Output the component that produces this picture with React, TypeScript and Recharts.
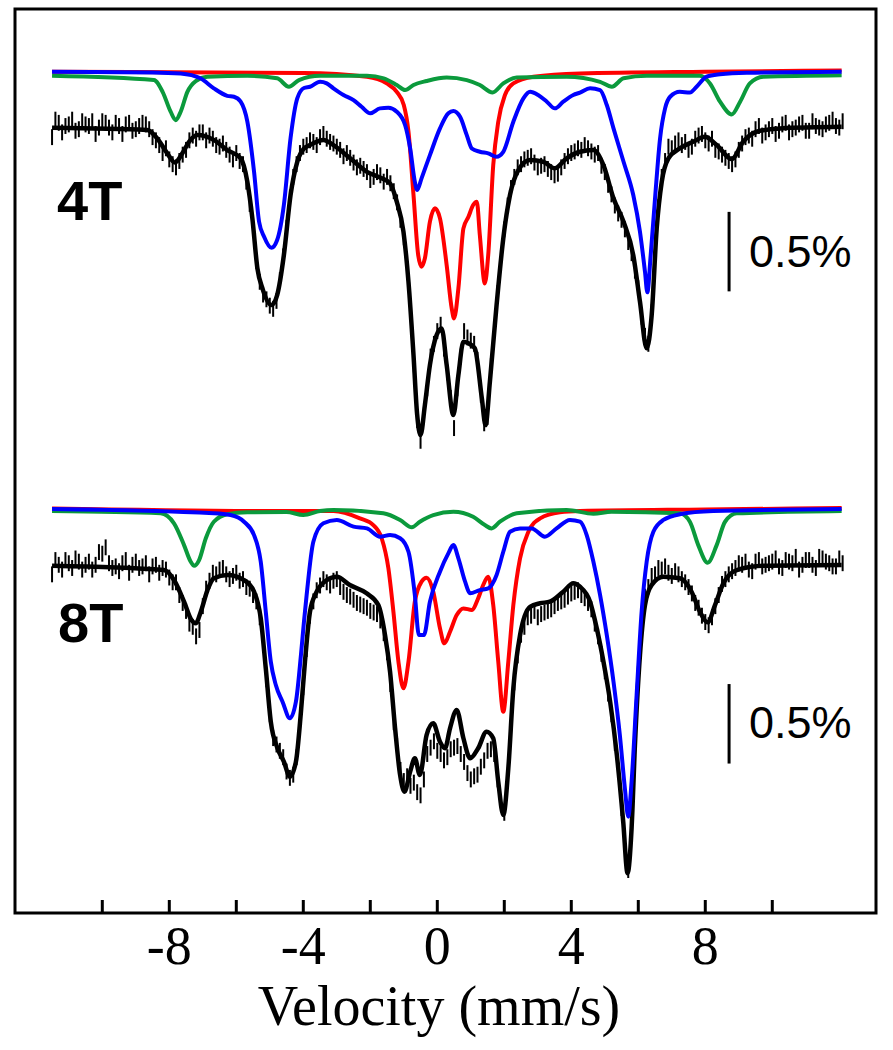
import React from 'react';
import { ComposedChart, Line, Scatter, ErrorBar, XAxis, YAxis, ReferenceLine, ReferenceArea } from 'recharts';

// Velocity channels (mm/s) of the measured spectra
const velocity = [
  -11.5, -11.4, -11.3, -11.2, -11.1, -11.0, -10.9, -10.8, -10.7, -10.6,
  -10.5, -10.4, -10.3, -10.2, -10.1, -10.0, -9.9, -9.8, -9.7, -9.6,
  -9.5, -9.4, -9.3, -9.2, -9.1, -9.0, -8.9, -8.8, -8.7, -8.6,
  -8.5, -8.4, -8.3, -8.2, -8.1, -8.0, -7.9, -7.8, -7.7, -7.6,
  -7.5, -7.4, -7.3, -7.2, -7.1, -7.0, -6.9, -6.8, -6.7, -6.6,
  -6.5, -6.4, -6.3, -6.2, -6.1, -6.0, -5.9, -5.8, -5.7, -5.6,
  -5.5, -5.4, -5.3, -5.2, -5.1, -5.0, -4.9, -4.8, -4.7, -4.6,
  -4.5, -4.4, -4.3, -4.2, -4.1, -4.0, -3.9, -3.8, -3.7, -3.6,
  -3.5, -3.4, -3.3, -3.2, -3.1, -3.0, -2.9, -2.8, -2.7, -2.6,
  -2.5, -2.4, -2.3, -2.2, -2.1, -2.0, -1.9, -1.8, -1.7, -1.6,
  -1.5, -1.4, -1.3, -1.2, -1.1, -1.0, -0.9, -0.8, -0.7, -0.6,
  -0.5, -0.4, -0.3, -0.2, -0.1, 0.0, 0.1, 0.2, 0.3, 0.4,
  0.5, 0.6, 0.7, 0.8, 0.9, 1.0, 1.1, 1.2, 1.3, 1.4,
  1.5, 1.6, 1.7, 1.8, 1.9, 2.0, 2.1, 2.2, 2.3, 2.4,
  2.5, 2.6, 2.7, 2.8, 2.9, 3.0, 3.1, 3.2, 3.3, 3.4,
  3.5, 3.6, 3.7, 3.8, 3.9, 4.0, 4.1, 4.2, 4.3, 4.4,
  4.5, 4.6, 4.7, 4.8, 4.9, 5.0, 5.1, 5.2, 5.3, 5.4,
  5.5, 5.6, 5.7, 5.8, 5.9, 6.0, 6.1, 6.2, 6.3, 6.4,
  6.5, 6.6, 6.7, 6.8, 6.9, 7.0, 7.1, 7.2, 7.3, 7.4,
  7.5, 7.6, 7.7, 7.8, 7.9, 8.0, 8.1, 8.2, 8.3, 8.4,
  8.5, 8.6, 8.7, 8.8, 8.9, 9.0, 9.1, 9.2, 9.3, 9.4,
  9.5, 9.6, 9.7, 9.8, 9.9, 10.0, 10.1, 10.2, 10.3, 10.4,
  10.5, 10.6, 10.7, 10.8, 10.9, 11.0, 11.1, 11.2, 11.3, 11.4,
  11.5, 11.6, 11.7, 11.8, 11.9, 12.0, 12.1,
];

// Measured relative transmission (%), panel offsets included
const data4T = [
  4.88, 4.99, 4.97, 4.91, 4.95, 4.96, 4.99, 4.92, 4.93, 4.98,
  4.96, 4.95, 4.98, 4.90, 4.94, 4.98, 4.97, 4.94, 4.91, 4.97,
  4.95, 4.90, 4.96, 4.97, 4.92, 4.93, 4.95, 4.97, 4.96, 4.93,
  4.88, 4.86, 4.83, 4.78, 4.81, 4.74, 4.71, 4.69, 4.73, 4.77,
  4.80, 4.86, 4.89, 4.87, 4.91, 4.91, 4.86, 4.89, 4.87, 4.83,
  4.82, 4.84, 4.80, 4.77, 4.74, 4.78, 4.73, 4.71, 4.60, 4.46,
  4.30, 4.10, 3.97, 3.89, 3.86, 3.82, 3.80, 3.85, 3.98, 4.13,
  4.31, 4.50, 4.63, 4.71, 4.78, 4.82, 4.83, 4.86, 4.85, 4.83,
  4.88, 4.90, 4.87, 4.85, 4.84, 4.82, 4.80, 4.76, 4.78, 4.75,
  4.72, 4.69, 4.70, 4.68, 4.66, 4.61, 4.63, 4.66, 4.64, 4.60,
  4.63, 4.59, 4.54, 4.47, 4.36, 4.25, 4.04, 3.80, 3.45, 3.10,
  2.97, 3.13, 3.30, 3.50, 3.58, 3.66, 3.70, 3.55, 3.40, 3.24,
  3.05, 3.30, 3.50, 3.66, 3.62, 3.60, 3.58, 3.48, 3.26, 3.08,
  3.12, 3.44, 3.68, 3.90, 4.12, 4.30, 4.45, 4.56, 4.63, 4.69,
  4.71, 4.74, 4.75, 4.76, 4.72, 4.69, 4.70, 4.71, 4.68, 4.66,
  4.64, 4.65, 4.69, 4.73, 4.76, 4.78, 4.79, 4.81, 4.80, 4.83,
  4.81, 4.79, 4.77, 4.78, 4.70, 4.66, 4.58, 4.52, 4.45, 4.40,
  4.36, 4.30, 4.22, 4.15, 4.04, 3.93, 3.75, 3.63, 3.58, 3.78,
  4.15, 4.44, 4.63, 4.73, 4.82, 4.81, 4.84, 4.86, 4.83, 4.85,
  4.80, 4.82, 4.87, 4.89, 4.90, 4.86, 4.84, 4.87, 4.80, 4.79,
  4.77, 4.75, 4.73, 4.71, 4.74, 4.80, 4.84, 4.88, 4.89, 4.87,
  4.93, 4.95, 4.89, 4.91, 4.93, 4.95, 4.90, 4.92, 4.96, 4.97,
  4.91, 4.93, 4.94, 4.96, 4.97, 4.92, 4.92, 4.98, 4.95, 4.94,
  4.93, 4.96, 4.97, 4.99, 4.95, 4.94, 4.98,
];
const data8T = [
  2.13, 2.22, 2.19, 2.16, 2.22, 2.20, 2.17, 2.23, 2.21, 2.16,
  2.19, 2.21, 2.16, 2.19, 2.27, 2.26, 2.30, 2.20, 2.17, 2.18,
  2.15, 2.20, 2.22, 2.14, 2.19, 2.21, 2.17, 2.18, 2.20, 2.13,
  2.18, 2.19, 2.14, 2.17, 2.16, 2.11, 2.08, 2.08, 2.00, 1.95,
  1.90, 1.82, 1.80, 1.74, 1.78, 1.93, 2.04, 2.09, 2.14, 2.13,
  2.16, 2.17, 2.13, 2.10, 2.12, 2.14, 2.09, 2.10, 2.05, 2.04,
  2.00, 1.96, 1.86, 1.70, 1.47, 1.25, 1.10, 1.06, 1.02, 0.98,
  0.89, 0.85, 0.87, 0.98, 1.17, 1.42, 1.66, 1.87, 1.96, 2.03,
  2.06, 2.10, 2.08, 2.06, 2.09, 2.10, 2.05, 2.02, 2.00, 1.99,
  1.97, 1.95, 1.94, 1.93, 1.92, 1.90, 1.89, 1.88, 1.84, 1.76,
  1.64, 1.44, 1.20, 1.05, 0.90, 0.83, 0.86, 0.80, 0.82, 0.76,
  0.74, 0.84, 1.00, 1.04, 1.08, 1.02, 1.00, 0.96, 0.98, 1.03,
  1.04, 1.05, 1.00, 0.95, 0.88, 0.84, 0.86, 0.87, 0.92, 0.96,
  1.02, 1.03, 1.00, 0.84, 0.69, 0.63, 0.84, 1.16, 1.45, 1.62,
  1.75, 1.80, 1.86, 1.87, 1.90, 1.86, 1.88, 1.89, 1.90, 1.91,
  1.93, 1.95, 1.96, 1.97, 1.99, 2.01, 2.02, 2.03, 2.00, 1.98,
  1.95, 1.91, 1.82, 1.74, 1.63, 1.52, 1.38, 1.25, 1.07, 0.90,
  0.66, 0.44, 0.27, 0.50, 1.04, 1.45, 1.76, 1.99, 2.05, 2.12,
  2.13, 2.17, 2.16, 2.18, 2.14, 2.12, 2.15, 2.13, 2.10, 2.08,
  2.05, 2.01, 1.95, 1.92, 1.87, 1.83, 1.81, 1.86, 1.93, 2.00,
  2.07, 2.10, 2.13, 2.15, 2.17, 2.20, 2.19, 2.21, 2.16, 2.15,
  2.21, 2.22, 2.18, 2.19, 2.20, 2.21, 2.23, 2.18, 2.17, 2.22,
  2.21, 2.20, 2.24, 2.16, 2.19, 2.22, 2.22, 2.19, 2.17, 2.24,
  2.23, 2.21, 2.20, 2.18, 2.18, 2.23, 2.20,
];
const err4T = 0.05;
const err8T = 0.05;

// Fitted curves [velocity, value]
const fit4T: [number, number][] = [
  [-11.5, 4.939], [-8.66, 4.925], [-8.36, 4.872], [-8.06, 4.778], [-7.83, 4.721], [-7.61, 4.778],
  [-7.41, 4.851], [-7.16, 4.893], [-6.67, 4.862], [-6.27, 4.799], [-5.87, 4.747], [-5.67, 4.599],
  [-5.52, 4.369], [-5.37, 4.055], [-5.22, 3.929], [-4.95, 3.824], [-4.78, 3.887], [-4.58, 4.138],
  [-4.38, 4.516], [-4.18, 4.725], [-3.98, 4.809], [-3.8, 4.83], [-3.4, 4.862], [-3.1, 4.83],
  [-2.6, 4.747], [-2.1, 4.662], [-1.66, 4.621], [-1.41, 4.589], [-1.21, 4.474], [-1.01, 4.285],
  [-0.86, 3.97], [-0.71, 3.509], [-0.6, 3.132], [-0.5, 3.006], [-0.37, 3.195], [-0.22, 3.447],
  [-0.02, 3.635], [0.13, 3.677], [0.28, 3.447], [0.48, 3.132], [0.63, 3.384], [0.78, 3.593],
  [0.93, 3.583], [1.12, 3.552], [1.33, 3.237], [1.44, 3.069], [1.57, 3.342], [1.77, 3.824],
  [1.97, 4.243], [2.17, 4.516], [2.42, 4.673], [2.77, 4.736], [3.16, 4.725], [3.51, 4.684],
  [3.86, 4.747], [4.26, 4.788], [4.66, 4.799], [4.96, 4.704], [5.26, 4.495], [5.56, 4.348],
  [5.85, 4.138], [6.05, 3.845], [6.25, 3.552], [6.4, 3.761], [6.55, 4.306], [6.7, 4.599],
  [6.9, 4.747], [7.24, 4.809], [7.64, 4.851], [7.99, 4.882], [8.34, 4.83], [8.79, 4.742],
  [9.13, 4.851], [9.53, 4.914], [10.23, 4.935], [12.07, 4.945],
];
const red4T: [number, number][] = [
  [-11.5, 5.291], [-4.0, 5.283], [-2.1, 5.26], [-1.51, 5.218], [-1.21, 5.165], [-1.0, 5.082],
  [-0.86, 4.914], [-0.71, 4.516], [-0.57, 4.138], [-0.47, 4.065], [-0.37, 4.118], [-0.22, 4.348],
  [-0.07, 4.432], [0.08, 4.369], [0.28, 4.075], [0.43, 3.803], [0.5, 3.74], [0.63, 3.929],
  [0.78, 4.306], [0.93, 4.379], [1.07, 4.453], [1.18, 4.474], [1.27, 4.264], [1.42, 3.96],
  [1.52, 4.138], [1.67, 4.704], [1.82, 4.977], [2.02, 5.145], [2.27, 5.218], [2.87, 5.26],
  [4.26, 5.281], [8.0, 5.292], [12.07, 5.299],
];
const blue4T: [number, number][] = [
  [-11.5, 5.291], [-8.5, 5.287], [-7.66, 5.28], [-7.07, 5.25], [-6.67, 5.187], [-6.27, 5.14],
  [-6.07, 5.134], [-5.87, 5.103], [-5.67, 4.977], [-5.47, 4.662], [-5.32, 4.348], [-5.17, 4.254],
  [-4.95, 4.184], [-4.78, 4.233], [-4.58, 4.453], [-4.38, 4.874], [-4.18, 5.124], [-3.98, 5.189],
  [-3.8, 5.197], [-3.5, 5.228], [-3.3, 5.218], [-3.1, 5.187], [-2.8, 5.145], [-2.5, 5.113],
  [-2.26, 5.071], [-2.0, 5.03], [-1.71, 5.061], [-1.46, 5.065], [-1.21, 5.04], [-0.96, 4.956],
  [-0.81, 4.809], [-0.67, 4.599], [-0.6, 4.547], [-0.47, 4.621], [-0.22, 4.767], [0.08, 4.935],
  [0.33, 5.03], [0.48, 5.044], [0.68, 5.008], [0.88, 4.893], [1.03, 4.809], [1.27, 4.788],
  [1.52, 4.778], [1.77, 4.757], [1.97, 4.788], [2.27, 4.977], [2.57, 5.124], [2.77, 5.165],
  [3.01, 5.145], [3.27, 5.103], [3.51, 5.061], [3.76, 5.103], [4.06, 5.145], [4.26, 5.16],
  [4.56, 5.187], [4.86, 5.176], [5.06, 5.082], [5.26, 4.935], [5.56, 4.725], [5.85, 4.516],
  [6.05, 4.285], [6.2, 4.033], [6.27, 3.904], [6.37, 4.138], [6.5, 4.495], [6.65, 4.872],
  [6.8, 5.061], [6.95, 5.134], [7.24, 5.165], [7.54, 5.161], [7.74, 5.197], [8.04, 5.26],
  [8.44, 5.275], [9.24, 5.285], [12.07, 5.291],
];
const green4T: [number, number][] = [
  [-11.5, 5.266], [-8.46, 5.239], [-8.2, 5.165], [-7.96, 5.04], [-7.81, 4.987], [-7.66, 5.04],
  [-7.46, 5.165], [-7.21, 5.233], [-6.86, 5.26], [-5.67, 5.266], [-4.78, 5.25], [-4.43, 5.197],
  [-4.13, 5.239], [-3.5, 5.266], [-2.1, 5.266], [-1.6, 5.25], [-1.21, 5.208], [-0.96, 5.176],
  [-0.71, 5.208], [-0.32, 5.233], [0.28, 5.255], [0.88, 5.239], [1.27, 5.208], [1.65, 5.161],
  [1.97, 5.218], [2.37, 5.255], [3.86, 5.26], [4.86, 5.228], [5.21, 5.197], [5.56, 5.25],
  [6.25, 5.266], [7.84, 5.266], [8.14, 5.218], [8.44, 5.103], [8.79, 5.023], [9.04, 5.103],
  [9.33, 5.218], [9.73, 5.26], [12.07, 5.27],
];

const fit8T: [number, number][] = [
  [-11.5, 2.184], [-8.16, 2.157], [-7.86, 2.094], [-7.56, 1.958], [-7.34, 1.843], [-7.21, 1.822],
  [-7.06, 1.895], [-6.86, 2.031], [-6.67, 2.105], [-6.27, 2.126], [-5.77, 2.094], [-5.47, 2.021],
  [-5.27, 1.853], [-5.12, 1.539], [-4.97, 1.203], [-4.77, 1.036], [-4.58, 0.952], [-4.4, 0.857],
  [-4.22, 0.952], [-4.07, 1.266], [-3.95, 1.581], [-3.8, 1.895], [-3.6, 2.021], [-3.3, 2.094],
  [-3.0, 2.115], [-2.61, 2.063], [-2.11, 2.011], [-1.76, 1.937], [-1.56, 1.748], [-1.41, 1.518],
  [-1.26, 1.162], [-1.11, 0.868], [-0.98, 0.763], [-0.81, 0.889], [-0.67, 0.973], [-0.52, 0.868],
  [-0.32, 1.119], [-0.12, 1.193], [0.08, 1.077], [0.23, 1.036], [0.38, 1.162], [0.58, 1.277],
  [0.78, 1.099], [0.98, 0.973], [1.22, 1.036], [1.47, 1.14], [1.67, 1.099], [1.82, 0.826],
  [1.97, 0.616], [2.12, 0.91], [2.27, 1.413], [2.47, 1.748], [2.77, 1.926], [3.07, 1.948],
  [3.36, 1.958], [3.76, 2.021], [4.06, 2.074], [4.26, 2.052], [4.56, 1.958], [4.76, 1.791],
  [4.96, 1.581], [5.16, 1.329], [5.36, 0.994], [5.55, 0.574], [5.68, 0.25], [5.8, 0.533],
  [5.9, 1.057], [6.05, 1.623], [6.2, 1.937], [6.4, 2.063], [6.75, 2.115], [7.24, 2.105],
  [7.59, 2.021], [7.84, 1.895], [8.07, 1.828], [8.29, 1.937], [8.54, 2.074], [8.94, 2.157],
  [9.73, 2.184], [12.07, 2.189],
];
const red8T: [number, number][] = [
  [-11.5, 2.545], [-4.0, 2.528], [-3.1, 2.528], [-2.31, 2.482], [-1.91, 2.44], [-1.66, 2.357],
  [-1.46, 2.168], [-1.31, 1.895], [-1.16, 1.581], [-1.01, 1.413], [-0.86, 1.581], [-0.67, 1.958],
  [-0.47, 2.084], [-0.32, 2.109], [-0.12, 2.021], [0.08, 1.791], [0.21, 1.696], [0.38, 1.769],
  [0.58, 1.874], [0.78, 1.916], [1.03, 1.906], [1.22, 1.979], [1.37, 2.063], [1.52, 2.115],
  [1.67, 1.937], [1.82, 1.581], [1.97, 1.266], [2.12, 1.581], [2.27, 1.937], [2.47, 2.231],
  [2.72, 2.398], [3.07, 2.482], [3.66, 2.52], [4.26, 2.528], [8.0, 2.538], [12.07, 2.547],
];
const blue8T: [number, number][] = [
  [-11.5, 2.541], [-6.67, 2.514], [-6.17, 2.503], [-5.77, 2.461], [-5.47, 2.377], [-5.27, 2.209],
  [-5.12, 1.895], [-4.97, 1.581], [-4.82, 1.434], [-4.62, 1.329], [-4.4, 1.225], [-4.22, 1.329],
  [-4.07, 1.623], [-3.98, 1.832], [-3.9, 2.0], [-3.7, 2.335], [-3.4, 2.451], [-3.0, 2.472],
  [-2.5, 2.43], [-2.1, 2.419], [-1.71, 2.367], [-1.41, 2.377], [-1.11, 2.357], [-0.86, 2.272],
  [-0.67, 2.0], [-0.55, 1.748], [-0.4, 1.748], [-0.22, 1.958], [0.08, 2.147], [0.33, 2.262],
  [0.48, 2.314], [0.63, 2.231], [0.83, 2.084], [0.98, 2.011], [1.27, 2.031], [1.52, 2.042],
  [1.77, 2.126], [1.97, 2.272], [2.17, 2.398], [2.47, 2.419], [2.82, 2.419], [3.21, 2.367],
  [3.56, 2.419], [3.96, 2.472], [4.26, 2.461], [4.46, 2.377], [4.66, 2.209], [4.86, 2.0],
  [5.06, 1.748], [5.26, 1.455], [5.45, 1.119], [5.6, 0.784], [5.7, 0.606], [5.8, 0.826],
  [5.95, 1.371], [6.1, 1.895], [6.25, 2.209], [6.45, 2.398], [6.75, 2.472], [7.24, 2.508],
  [8.24, 2.528], [12.07, 2.541],
];
const green8T: [number, number][] = [
  [-11.5, 2.528], [-8.26, 2.514], [-7.86, 2.451], [-7.56, 2.314], [-7.36, 2.209], [-7.26, 2.184],
  [-7.11, 2.22], [-6.91, 2.357], [-6.67, 2.461], [-6.27, 2.508], [-5.67, 2.52], [-4.5, 2.522],
  [-4.0, 2.503], [-3.5, 2.528], [-3.1, 2.535], [-1.61, 2.514], [-1.11, 2.472], [-0.76, 2.426],
  [-0.52, 2.461], [-0.12, 2.503], [0.48, 2.524], [1.07, 2.492], [1.42, 2.44], [1.62, 2.419],
  [1.87, 2.461], [2.37, 2.514], [3.86, 2.535], [4.66, 2.511], [5.2, 2.524], [7.24, 2.514],
  [7.54, 2.461], [7.79, 2.314], [8.07, 2.203], [8.34, 2.314], [8.59, 2.461], [8.94, 2.514],
  [12.07, 2.528],
];

const xTicks = [-10, -8, -6, -4, -2, 0, 2, 4, 6, 8, 10];
const xDomain: [number, number] = [-12.606, 13.096];
const yDomain: [number, number] = [0, 5.686];
const scaleBar4T = { x: 8.71, y1: 3.91, y2: 4.41 };
const scaleBar8T = { x: 8.71, y1: 0.94, y2: 1.44 };

const RED = '#ff0000';
const BLUE = '#0000ff';
const GREEN = '#0b9a3c';

const toPts = (pairs: [number, number][]) => pairs.map(([v, y]) => ({ v, y }));
const toData = (ys: number[], err: number) => velocity.map((v, i) => ({ v, y: ys[i], err }));

const pts4T = toData(data4T, err4T);
const pts8T = toData(data8T, err8T);

const serif = "'Liberation Serif','Times New Roman',Times,serif";
const sans = "'Liberation Sans',Arial,Helvetica,sans-serif";

const VelTick = (props: any) => {
  const { x, y, payload } = props;
  const v = payload.value;
  return (
    <g>
      <line x1={x} x2={x} y1={y} y2={y - 13} stroke="#000" strokeWidth={3} />
      {v % 4 === 0 && (
        <text x={x} y={y + 51} textAnchor="middle" fontFamily={serif} fontSize={54} fill="#000">
          {String(v)}
        </text>
      )}
    </g>
  );
};

const NoShape = () => <g />;

const curve = (pairs: [number, number][], color: string, w: number, key: string) => (
  <Line
    key={key}
    data={toPts(pairs)}
    dataKey="y"
    type="monotone"
    stroke={color}
    strokeWidth={w}
    dot={false}
    activeDot={false}
    isAnimationActive={false}
    strokeLinejoin="round"
  />
);

export default function App() {
  return (
    <div style={{ position: 'absolute', left: 0, top: 0, width: 893, height: 1050, background: '#fff' }}>
      <ComposedChart width={893} height={1050} margin={{ top: 9, right: 17, bottom: 0, left: 15 }}>
        <XAxis
          dataKey="v"
          type="number"
          domain={xDomain}
          ticks={xTicks}
          interval={0}
          allowDataOverflow
          height={137}
          tickSize={0}
          tickMargin={0}
          axisLine={false}
          tickLine={false}
          tick={<VelTick />}
        />
        <YAxis type="number" domain={yDomain} hide allowDataOverflow />
        <ReferenceArea
          x1={xDomain[0]}
          x2={xDomain[1]}
          y1={yDomain[0]}
          y2={yDomain[1]}
          fill="none"
          fillOpacity={0}
          stroke="#000"
          strokeWidth={3}
          ifOverflow="visible"
        />
        <Scatter data={pts4T} dataKey="y" shape={NoShape} isAnimationActive={false}>
          <ErrorBar dataKey="err" direction="y" width={0} stroke="#000" strokeWidth={2} isAnimationActive={false} />
        </Scatter>
        <Scatter data={pts8T} dataKey="y" shape={NoShape} isAnimationActive={false}>
          <ErrorBar dataKey="err" direction="y" width={0} stroke="#000" strokeWidth={2} isAnimationActive={false} />
        </Scatter>
        {curve(fit4T, '#000', 4.5, 'f4')}
        {curve(fit8T, '#000', 4.5, 'f8')}
        {curve(red4T, RED, 4, 'r4')}
        {curve(red8T, RED, 4, 'r8')}
        {curve(green4T, GREEN, 4, 'g4')}
        {curve(green8T, GREEN, 4, 'g8')}
        {curve(blue4T, BLUE, 4, 'b4')}
        {curve(blue8T, BLUE, 4, 'b8')}
        <ReferenceLine
          segment={[{ x: scaleBar4T.x, y: scaleBar4T.y1 }, { x: scaleBar4T.x, y: scaleBar4T.y2 }]}
          stroke="#000"
          strokeWidth={3}
        />
        <ReferenceLine
          segment={[{ x: scaleBar8T.x, y: scaleBar8T.y1 }, { x: scaleBar8T.x, y: scaleBar8T.y2 }]}
          stroke="#000"
          strokeWidth={3}
        />
      </ComposedChart>
      <svg
        width={893}
        height={1050}
        style={{ position: 'absolute', left: 0, top: 0, pointerEvents: 'none' }}
      >
        <text x={57} y={220} fontFamily={sans} fontWeight="bold" fontSize={56} fill="#000">4T</text>
        <text x={58} y={642} fontFamily={sans} fontWeight="bold" fontSize={56} fill="#000">8T</text>
        <text x={749} y={267} fontFamily={sans} fontSize={45} fill="#000">0.5%</text>
        <text x={749} y={738} fontFamily={sans} fontSize={45} fill="#000">0.5%</text>
        <text x={439} y={1025} textAnchor="middle" fontFamily={serif} fontSize={56} fill="#000">
          Velocity (mm/s)
        </text>
      </svg>
    </div>
  );
}
